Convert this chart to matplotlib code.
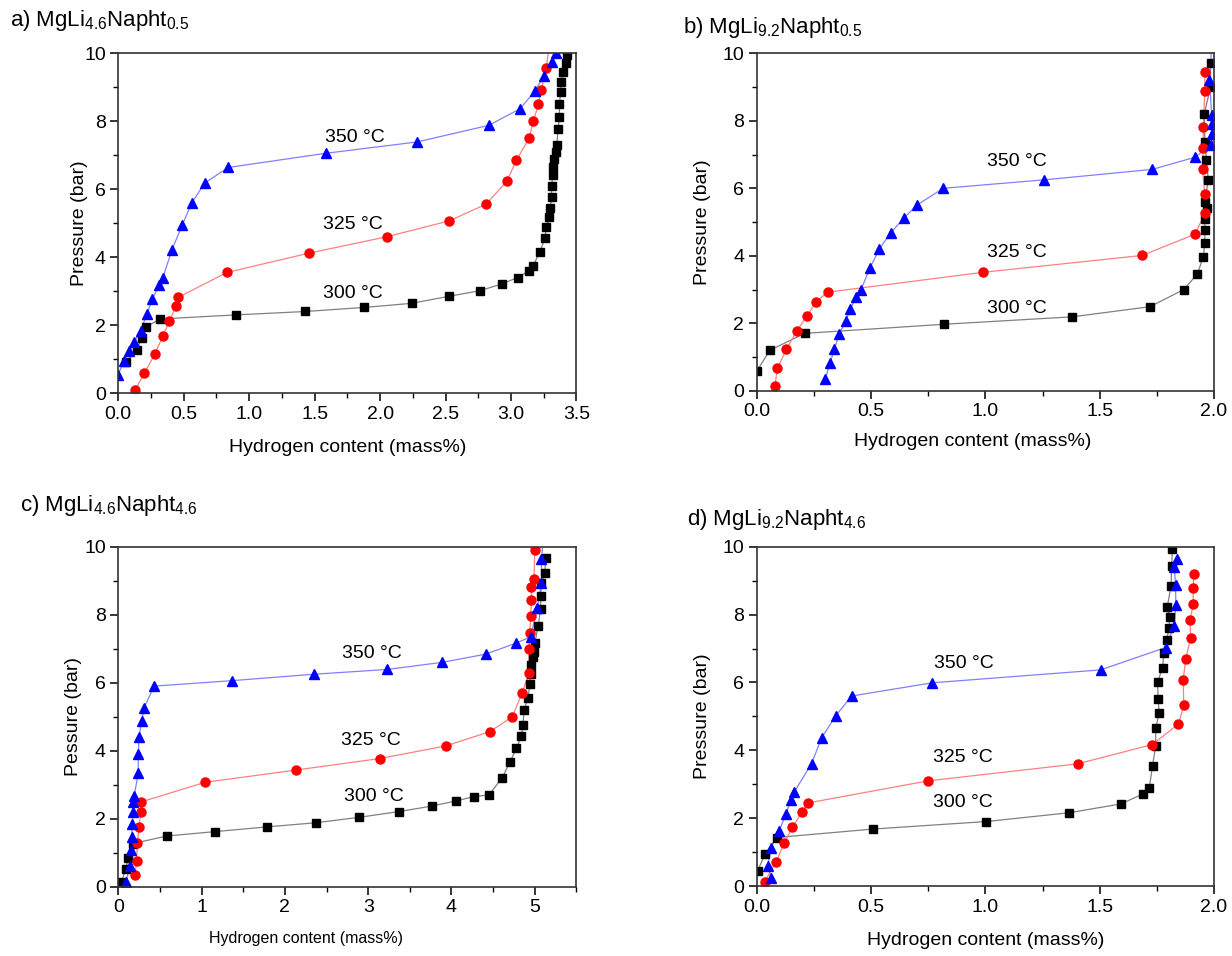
import numpy as np
import matplotlib
matplotlib.use('Agg')
import matplotlib.pyplot as plt
from matplotlib.ticker import MultipleLocator

plt.rcParams['font.family'] = ['Liberation Sans', 'DejaVu Sans']
plt.rcParams['mathtext.fontset'] = 'custom'
plt.rcParams['mathtext.rm'] = 'Liberation Sans'

# ---- panel a) MgLi4.6Napht0.5
a_300_x = [0.06, 0.14, 0.18, 0.21, 0.32, 0.90, 1.43, 1.88, 2.24, 2.53, 2.76, 2.93, 3.05, 3.14, 3.17,
           3.22, 3.26, 3.27, 3.29, 3.30, 3.31, 3.31, 3.32, 3.32, 3.33, 3.34, 3.35, 3.36, 3.37, 3.37,
           3.38, 3.38, 3.40, 3.42, 3.43]
a_300_y = [0.90, 1.27, 1.62, 1.94, 2.18, 2.30, 2.40, 2.52, 2.64, 2.85, 3.01, 3.21, 3.40, 3.60, 3.75,
           4.16, 4.55, 4.90, 5.18, 5.45, 5.77, 6.10, 6.41, 6.66, 6.88, 7.10, 7.30, 7.78, 8.12, 8.52,
           8.86, 9.16, 9.45, 9.72, 9.95]
a_325_x = [0.13, 0.20, 0.28, 0.34, 0.39, 0.44, 0.46, 0.83, 1.46, 2.05, 2.53, 2.81, 2.97, 3.04, 3.14,
           3.17, 3.21, 3.23, 3.27, 3.29]
a_325_y = [0.10, 0.59, 1.15, 1.67, 2.11, 2.55, 2.82, 3.55, 4.12, 4.60, 5.07, 5.56, 6.24, 6.85, 7.51,
           8.01, 8.50, 8.91, 9.57, 10.2]
a_350_x = [0.00, 0.04, 0.08, 0.12, 0.17, 0.22, 0.26, 0.31, 0.34, 0.41, 0.49, 0.56, 0.66, 0.84, 1.59,
           2.28, 2.83, 3.07, 3.18, 3.25, 3.31, 3.34]
a_350_y = [0.54, 0.93, 1.23, 1.49, 1.84, 2.33, 2.76, 3.17, 3.38, 4.22, 4.95, 5.59, 6.18, 6.64, 7.06,
           7.39, 7.88, 8.37, 8.88, 9.32, 9.74, 10.0]

# ---- panel b) MgLi9.2Napht0.5
b_300_x = [0.00, 0.058, 0.21, 0.82, 1.38, 1.72, 1.868, 1.927, 1.953, 1.96, 1.96, 1.96, 1.97, 1.96,
           1.975, 1.967, 1.96, 1.957, 1.985, 1.985]
b_300_y = [0.58, 1.20, 1.70, 1.97, 2.19, 2.49, 3.00, 3.46, 3.97, 4.37, 4.76, 5.08, 5.41, 5.60,
           6.25, 6.84, 7.36, 8.19, 9.01, 9.70]
b_325_x = [0.08, 0.09, 0.13, 0.175, 0.22, 0.26, 0.31, 0.99, 1.686, 1.917, 1.96, 1.96, 1.95, 1.953,
           1.953, 1.96, 1.96]
b_325_y = [0.15, 0.66, 1.23, 1.77, 2.21, 2.64, 2.92, 3.51, 4.01, 4.64, 5.26, 5.83, 6.56, 7.18,
           7.83, 8.88, 9.46]
b_350_x = [0.30, 0.32, 0.34, 0.36, 0.39, 0.41, 0.435, 0.455, 0.495, 0.535, 0.586, 0.646, 0.70, 0.816,
           1.256, 1.73, 1.917, 1.985, 1.99, 1.99, 1.99, 1.98, 1.99]
b_350_y = [0.34, 0.81, 1.23, 1.67, 2.07, 2.43, 2.77, 2.98, 3.63, 4.19, 4.68, 5.13, 5.50, 6.00,
           6.25, 6.56, 6.92, 7.28, 7.60, 7.92, 8.17, 9.21, 10.2]

# ---- panel c) MgLi4.6Napht4.6
c_300_x = [0.04, 0.09, 0.12, 0.18, 0.58, 1.16, 1.79, 2.37, 2.89, 3.37, 3.76, 4.05, 4.27, 4.45, 4.61,
           4.70, 4.78, 4.84, 4.86, 4.87, 4.92, 4.94, 4.95, 4.96, 4.98, 4.99, 5.00, 5.04, 5.07, 5.07,
           5.08, 5.12, 5.13]
c_300_y = [0.15, 0.52, 0.85, 1.27, 1.49, 1.62, 1.76, 1.88, 2.04, 2.21, 2.37, 2.52, 2.65, 2.70, 3.21,
           3.66, 4.07, 4.44, 4.77, 5.20, 5.56, 5.95, 6.25, 6.52, 6.76, 6.91, 7.16, 7.67, 8.16, 8.55,
           8.94, 9.24, 9.66]
c_325_x = [0.20, 0.22, 0.23, 0.25, 0.27, 0.27, 1.04, 2.13, 3.14, 3.93, 4.46, 4.73, 4.85, 4.93, 4.93,
           4.94, 4.95, 4.96, 4.96, 4.99, 5.00]
c_325_y = [0.34, 0.76, 1.29, 1.76, 2.20, 2.49, 3.07, 3.43, 3.77, 4.14, 4.56, 5.00, 5.71, 6.29, 6.98,
           7.45, 7.96, 8.43, 8.82, 9.04, 9.90]
c_350_x = [0.09, 0.14, 0.15, 0.16, 0.17, 0.18, 0.18, 0.19, 0.24, 0.24, 0.25, 0.28, 0.31, 0.43, 1.36,
           2.35, 3.23, 3.89, 4.41, 4.77, 4.95, 5.03, 5.08, 5.08, 5.10]
c_350_y = [0.13, 0.61, 1.08, 1.45, 1.84, 2.20, 2.50, 2.67, 3.33, 3.90, 4.41, 4.87, 5.26, 5.90, 6.06,
           6.25, 6.39, 6.60, 6.84, 7.16, 7.35, 8.19, 8.94, 9.63, 10.2]

# ---- panel d) MgLi9.2Napht4.6
d_300_x = [0.004, 0.036, 0.087, 0.51, 1.003, 1.367, 1.593, 1.688, 1.717, 1.731, 1.745, 1.745, 1.76,
           1.756, 1.753, 1.775, 1.781, 1.793, 1.803, 1.807, 1.795, 1.812, 1.815, 1.818]
d_300_y = [0.45, 0.93, 1.43, 1.68, 1.90, 2.16, 2.42, 2.71, 2.90, 3.54, 4.13, 4.65, 5.09,
           5.50, 6.00, 6.44, 6.88, 7.25, 7.60, 7.92, 8.21, 8.84, 9.43, 9.93]
d_325_x = [0.036, 0.085, 0.12, 0.156, 0.197, 0.226, 0.75, 1.403, 1.73, 1.844, 1.868, 1.865, 1.876,
           1.898, 1.895, 1.909, 1.909, 1.912]
d_325_y = [0.13, 0.72, 1.26, 1.73, 2.17, 2.45, 3.10, 3.60, 4.17, 4.77, 5.33, 6.07, 6.68,
           7.32, 7.84, 8.31, 8.79, 9.19]
d_350_x = [0.063, 0.048, 0.063, 0.098, 0.128, 0.15, 0.165, 0.24, 0.284, 0.345, 0.415, 0.768, 1.504,
           1.788, 1.826, 1.833, 1.832, 1.826, 1.836]
d_350_y = [0.25, 0.59, 1.13, 1.62, 2.12, 2.55, 2.78, 3.61, 4.37, 5.01, 5.60, 5.99, 6.37,
           7.03, 7.67, 8.28, 8.87, 9.39, 9.64]

temps = ['300 \u00b0C', '325 \u00b0C', '350 \u00b0C']
mcol = ['black', 'red', 'blue']
lcol = ['#808080', '#ff8080', '#8080ff']
mark = ['s', 'o', '^']
msz = [6.0, 6.5, 7.5]

panels = [
    dict(rect=[0.0960, 0.5889, 0.3719, 0.3553], xmax=3.5, xmaj=0.5, xmin=0.25, fmt='%.1f',
         series=[(a_300_x, a_300_y), (a_325_x, a_325_y), (a_350_x, a_350_y)],
         lab=[(1.79, 2.94), (1.79, 4.97), (1.81, 7.53)],
         title=r'a) MgLi$_{\mathregular{4.6}}$Napht$_{\mathregular{0.5}}$', tpos=(0.008, 0.979),
         ylab='Pressure (bar)', ylc=-0.066, xlc=(0.5, -0.135), xfs=14),
    dict(rect=[0.6142, 0.5913, 0.3712, 0.3529], xmax=2.0, xmaj=0.5, xmin=0.25, fmt='%.1f',
         series=[(b_300_x, b_300_y), (b_325_x, b_325_y), (b_350_x, b_350_y)],
         lab=[(1.14, 2.45), (1.14, 4.09), (1.14, 6.79)],
         title=r'b) MgLi$_{\mathregular{9.2}}$Napht$_{\mathregular{0.5}}$', tpos=(0.554, 0.971),
         ylab='Pressure (bar)', ylc=-0.1, xlc=(0.473, -0.125), xfs=14),
    dict(rect=[0.0960, 0.0725, 0.3719, 0.3556], xmax=5.5, xmaj=1.0, xmin=0.5, fmt='%d',
         series=[(c_300_x, c_300_y), (c_325_x, c_325_y), (c_350_x, c_350_y)],
         lab=[(3.07, 2.64), (3.03, 4.29), (3.05, 6.87)],
         title=r'c) MgLi$_{\mathregular{4.6}}$Napht$_{\mathregular{4.6}}$', tpos=(0.016, 0.471),
         ylab='Pessure (bar)', ylc=-0.08, xlc=(0.41, -0.13), xfs=11.5),
    dict(rect=[0.6142, 0.0732, 0.3712, 0.3549], xmax=2.0, xmaj=0.5, xmin=0.25, fmt='%.1f',
         series=[(d_300_x, d_300_y), (d_325_x, d_325_y), (d_350_x, d_350_y)],
         lab=[(0.90, 2.45), (0.90, 3.78), (0.906, 6.55)],
         title=r'd) MgLi$_{\mathregular{9.2}}$Napht$_{\mathregular{4.6}}$', tpos=(0.558, 0.457),
         ylab='Pressure (bar)', ylc=-0.1, xlc=(0.5, -0.135), xfs=14),
]

fig = plt.figure(figsize=(12.32, 9.56), dpi=100)
for p in panels:
    ax = fig.add_axes(p['rect'])
    for i, (xs, ys) in enumerate(p['series']):
        ax.plot(xs, ys, color=lcol[i], lw=0.9, zorder=1)
        ax.plot(xs, ys, ls='none', marker=mark[i], ms=msz[i], color=mcol[i], mec=mcol[i], zorder=2)
        ax.text(p['lab'][i][0], p['lab'][i][1], temps[i], fontsize=14, ha='center', va='center')
    ax.set_xlim(0, p['xmax'])
    ax.set_ylim(0, 10)
    ax.xaxis.set_major_locator(MultipleLocator(p['xmaj']))
    ax.xaxis.set_minor_locator(MultipleLocator(p['xmin']))
    ax.xaxis.set_major_formatter(plt.FormatStrFormatter(p['fmt']))
    ax.yaxis.set_major_locator(MultipleLocator(2))
    ax.yaxis.set_minor_locator(MultipleLocator(1))
    ax.tick_params(which='major', direction='out', length=6, width=1.1, labelsize=14, pad=3)
    ax.tick_params(which='minor', direction='out', length=3.5, width=1.0)
    for s in ax.spines.values():
        s.set_linewidth(1.2)
        s.set_color('#333333')
    ax.set_ylabel(p['ylab'], fontsize=14)
    ax.yaxis.set_label_coords(p['ylc'], 0.5)
    ax.set_xlabel('Hydrogen content (mass%)', fontsize=p['xfs'], va='top')
    ax.xaxis.set_label_coords(*p['xlc'])
    fig.text(p['tpos'][0], p['tpos'][1], p['title'], fontsize=16, ha='left', va='center')

fig.savefig('out.png', dpi=100)
